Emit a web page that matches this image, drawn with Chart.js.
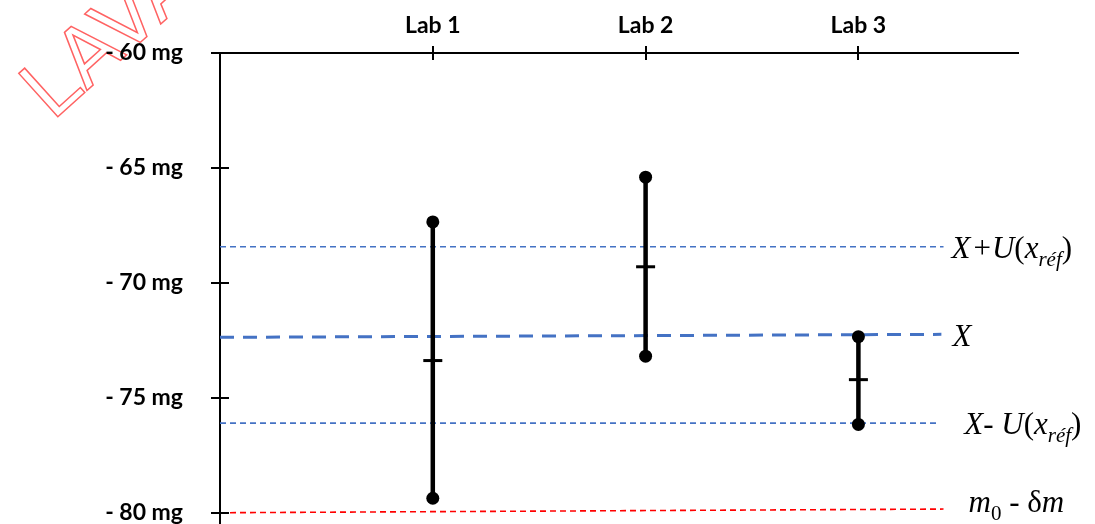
<!DOCTYPE html>
<html lang="fr">
<head>
<meta charset="UTF-8">
<title>Comparaison inter-laboratoires</title>
<script src="https://cdn.jsdelivr.net/npm/chart.js"></script>
<style>
    body { margin: 0; background: #fff; overflow: hidden; }
    .wrap { width: 1095px; height: 524px; }
</style>
</head>
<body>
<div class="wrap"><canvas id="labChart" width="1095" height="524"></canvas></div>
<script>
// labs and their measured intervals (mg)
const labs = ['Lab 1', 'Lab 2', 'Lab 3'];
const labX = [1, 2, 3];
const upper = [-67.35, -65.4, -72.34];
const lower = [-79.37, -73.19, -76.16];
const mean = [-73.38, -69.3, -74.21];
const yTicks = [-80, -75, -70, -65, -60];

// reference lines: X+U, X, X-U, m0 - dm (value at left edge / at right end)
const refLeft = [-68.43, -72.37, -76.1, -80.0];
const refRight = [-68.43, -72.24, -76.1, -79.84];
const refEndX = [3.40, 3.39, 3.38, 3.40];

// styles for the reference lines
const refStyle = [
    { color: '#4472C4', width: 1.6, dash: [6, 4] },
    { color: '#4472C4', width: 3, dash: [14, 9] },
    { color: '#4472C4', width: 1.6, dash: [6, 4] },
    { color: '#FF0000', width: 1.6, dash: [6, 4] }
];

// right side labels, drawn as pieces: [text, kind]  i = italic, u = upright, s = subscript
const refLabels = [
    [['X', 'i'], ['+', 'u'], ['U', 'i'], ['(', 'u'], ['x', 'i'], ['réf', 's'], [')', 'u']],
    [['X', 'i']],
    [['X', 'i'], ['- ', 'u'], ['U', 'i'], ['(', 'u'], ['x', 'i'], ['réf', 's'], [')', 'u']],
    [['m', 'i'], ['0', 'su'], [' - ', 'u'], ['δ', 'u'], ['m', 'i']]
];
const labelOffset = [[8, 11], [11, 12], [25, 11], [25, 3]];

const datasets = [];

labs.forEach((lab, i) => {
    datasets.push({
        type: 'line',
        label: lab,
        data: [{ x: labX[i], y: upper[i] }, { x: labX[i], y: lower[i] }],
        borderColor: '#000',
        borderWidth: 4.5,
        pointRadius: 6.5,
        pointBackgroundColor: '#000',
        pointBorderWidth: 0,
        order: 1
    });
});

datasets.push({
    type: 'scatter',
    label: 'mean',
    data: labX.map((x, i) => ({ x: x, y: mean[i] })),
    pointStyle: 'line',
    pointRadius: 9.5,
    borderColor: '#000',
    borderWidth: 3,
    order: 0
});

refLeft.forEach((v, i) => {
    datasets.push({
        type: 'line',
        label: 'ref' + i,
        data: [{ x: 0, y: v }, { x: refEndX[i], y: refRight[i] }],
        borderColor: refStyle[i].color,
        borderWidth: refStyle[i].width,
        borderDash: refStyle[i].dash,
        pointRadius: 0,
        order: 5
    });
});

const watermark = {
    id: 'watermark',
    beforeDraw(chart) {
        const ctx = chart.ctx;
        ctx.save();
        ctx.translate(52, 122);
        ctx.rotate(-42 * Math.PI / 180);
        ctx.font = '80px "DejaVu Sans"';
        ctx.strokeStyle = 'rgba(255, 70, 70, 0.85)';
        ctx.lineWidth = 1.5;
        ctx.strokeText('LAVAL', 0, 0);
        ctx.restore();
    }
};

const axisTicks = {
    id: 'axisTicks',
    afterDraw(chart) {
        const ctx = chart.ctx;
        const xs = chart.scales.x, ys = chart.scales.y;
        const area = chart.chartArea;
        ctx.save();
        ctx.strokeStyle = '#000';
        ctx.lineWidth = 2;
        ctx.beginPath();
        yTicks.forEach(v => {
            const py = Math.round(ys.getPixelForValue(v));
            ctx.moveTo(area.left - 9, py);
            ctx.lineTo(area.left + 9, py);
        });
        labX.forEach(v => {
            const px = Math.round(xs.getPixelForValue(v));
            ctx.moveTo(px, area.top - 7);
            ctx.lineTo(px, area.top + 7);
        });
        ctx.stroke();
        ctx.restore();
    }
};

const refText = {
    id: 'refText',
    afterDraw(chart) {
        const ctx = chart.ctx;
        const xs = chart.scales.x, ys = chart.scales.y;
        ctx.save();
        ctx.fillStyle = '#000';
        ctx.textBaseline = 'alphabetic';
        ctx.textAlign = 'left';
        refLabels.forEach((parts, i) => {
            let px = xs.getPixelForValue(refEndX[i]) + labelOffset[i][0];
            const base = ys.getPixelForValue(refRight[i]) + labelOffset[i][1];
            parts.forEach(([t, kind]) => {
                let dy = 0;
                if (kind === 'i') ctx.font = 'italic 31px "Liberation Serif"';
                else if (kind === 'u') ctx.font = '31px "Liberation Serif"';
                else if (kind === 's') { ctx.font = 'italic 21px "Liberation Serif"'; dy = 8; }
                else { ctx.font = '21px "Liberation Serif"'; dy = 8; }
                if (t === '+') px += 3;
                ctx.fillText(t, px, base + dy);
                px += ctx.measureText(t).width + (t === '+' ? 1 : 0);
            });
        });
        ctx.restore();
    }
};

new Chart(document.getElementById('labChart'), {
    type: 'line',
    data: { datasets: datasets },
    options: {
        responsive: false,
        animation: false,
        layout: { autoPadding: false, padding: { left: 0, right: 77, top: 3, bottom: 0 } },
        plugins: { legend: { display: false }, tooltip: { enabled: false } },
        scales: {
            x: {
                type: 'linear',
                position: 'top',
                min: 0,
                max: 3.75,
                grid: { display: false, drawTicks: false },
                border: { color: '#000', width: 2 },
                ticks: {
                    color: '#000',
                    padding: 14,
                    font: { family: 'Lato', size: 23, weight: 'bold' },
                    callback: v => labs[labX.indexOf(v)]
                },
                afterBuildTicks: s => { s.ticks = labX.map(v => ({ value: v })); },
                afterFit: s => { s.height = 50; s.paddingLeft = 0; s.paddingRight = 0; }
            },
            y: {
                type: 'linear',
                min: -80.49,
                max: -60,
                grid: { display: false, drawTicks: false },
                border: { color: '#000', width: 2 },
                ticks: {
                    color: '#000',
                    padding: 37,
                    font: { family: 'Lato', size: 23, weight: 'bold' },
                    callback: v => '- ' + Math.abs(v) + ' mg'
                },
                afterBuildTicks: s => { s.ticks = yTicks.map(v => ({ value: v })); },
                afterFit: s => { s.width = 220; s.paddingTop = 0; s.paddingBottom = 0; }
            }
        }
    },
    plugins: [watermark, axisTicks, refText]
});
</script>
</body>
</html>
